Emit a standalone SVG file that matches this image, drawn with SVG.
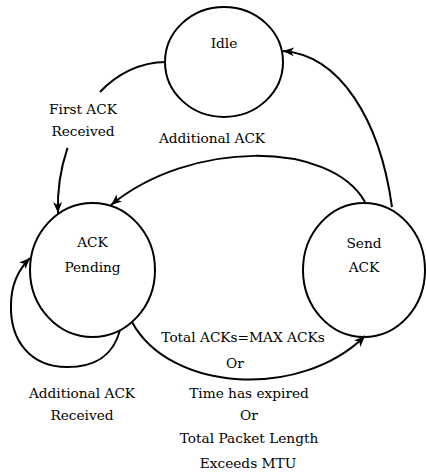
<svg xmlns="http://www.w3.org/2000/svg" width="426" height="472" viewBox="0 0 426 472">
<defs>
<style>
.st{fill:#fff;stroke:#000;stroke-width:2}
.ln{fill:none;stroke:#000;stroke-width:2}
</style>
<marker id="ah" markerUnits="userSpaceOnUse" markerWidth="12" markerHeight="10" refX="11" refY="5" orient="auto">
<path d="M0,0.5 L11,5 L0,9.5 L3,5 Z" fill="#000"/>
</marker>
</defs>
<rect width="426" height="472" fill="#fff"/>
<g font-family="DejaVu Serif, 'Liberation Serif', serif" font-size="13.7" text-anchor="middle" fill="#000">
<g id="idle">
<ellipse class="st" cx="224" cy="62" rx="59" ry="55"/>
<text x="224" y="48">Idle</text>
</g>
<g id="ack-pending">
<ellipse class="st" cx="92.5" cy="270" rx="62.5" ry="67"/>
<text x="92.5" y="247">ACK</text>
<text x="92.5" y="272">Pending</text>
</g>
<g id="send-ack">
<ellipse class="st" cx="364" cy="270" rx="61" ry="67"/>
<text x="364" y="248">Send</text>
<text x="364" y="272">ACK</text>
</g>
<g id="connectors">
<path class="ln" d="M166,62 C139.6,62 116.56,74.48 100,92"/>
<path class="ln" d="M67.53,147.84 C60.52,168.54 57.1,190.4 58,213" marker-end="url(#ah)"/>
<path class="ln" d="M392,207 C380,120 340,55 283,51" marker-end="url(#ah)"/>
<path class="ln" d="M365,202 C330,140 190,140 111,205" marker-end="url(#ah)"/>
<path class="ln" d="M132,322 C170,392 300,400 365,336" marker-end="url(#ah)"/>
<path class="ln" d="M120,330 C112,360 90,367 67,367 C30,367 10,340 11,305 C11,285 18,270 30,258" marker-end="url(#ah)"/>
</g>
<g id="labels">
<text x="83" y="114">First ACK</text>
<text x="83" y="136">Received</text>
<text x="212" y="143">Additional ACK</text>
<text x="82" y="398">Additional ACK</text>
<text x="82" y="420">Received</text>
<text x="243" y="342">Total ACKs=MAX ACKs</text>
<text x="235" y="368">Or</text>
<text x="249" y="398">Time has expired</text>
<text x="249" y="420">Or</text>
<text x="249" y="443">Total Packet Length</text>
<text x="248" y="468">Exceeds MTU</text>
</g>
</g>
</svg>
